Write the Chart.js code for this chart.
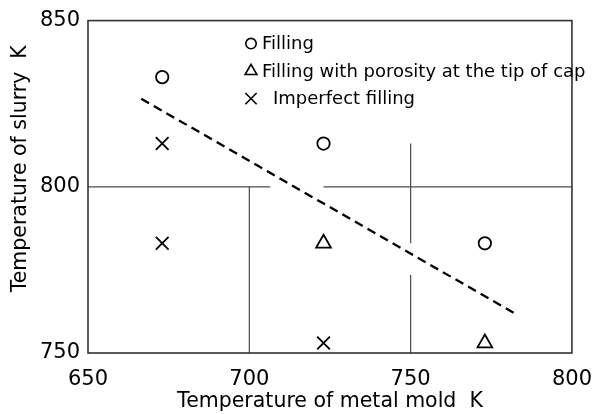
<!DOCTYPE html>
<html>
<head>
<meta charset="utf-8">
<script src="https://cdn.jsdelivr.net/npm/chart.js@4.4.1/dist/chart.umd.min.js"></script>
<style>
  html, body { margin: 0; padding: 0; background: #fff; }
  canvas { display: block; }
</style>
</head>
<body>
<canvas id="chart" width="606" height="414"></canvas>
<script>
// temperature of metal mold (K) / temperature of slurry (K)
const fillingMold = [673, 723, 773];
const fillingSlurry = [833, 813, 783];
const porosityMold = [723, 773];
const porositySlurry = [783, 753];
const imperfectMold = [673, 673, 723];
const imperfectSlurry = [813, 783, 753];

// dashed boundary line
const trendMold = [666.5, 783];
const trendSlurry = [826.5, 761.5];

// thin region lines, one segment each
const segMold = [[650, 706.5], [723, 800], [700, 700], [750, 750], [750, 750]];
const segSlurry = [[800, 800], [800, 800], [750, 800], [750, 773.5], [783, 813]];

const xTicks = [650, 700, 750, 800];
const yTicks = [750, 800, 850];

const FONT = 'DejaVu Sans';

const pts = (xs, ys) => xs.map((x, i) => ({ x: x, y: ys[i] }));

const markerSets = [
  { label: 'Filling', data: pts(fillingMold, fillingSlurry), pointStyle: 'circle', pointRadius: 6.2, legendRadius: 5.2, textGap: 1 },
  { label: 'Filling with porosity at the tip of cap', data: pts(porosityMold, porositySlurry), pointStyle: 'triangle', pointRadius: 8.5, legendRadius: 6.8, textGap: 1 },
  { label: 'Imperfect filling', data: pts(imperfectMold, imperfectSlurry), pointStyle: 'crossRot', pointRadius: 9, legendRadius: 8, textGap: 12 },
].map(d => Object.assign(d, {
  showLine: false,
  borderColor: '#000',
  backgroundColor: 'rgba(0,0,0,0)',
  pointBorderWidth: 1.8,
  pointHoverRadius: d.pointRadius,
}));

const lineSets = segMold.map((m, i) => ({
  label: 'seg' + i,
  data: pts(m, segSlurry[i]),
  showLine: true,
  borderColor: '#4a4a4a',
  borderWidth: 1.2,
  pointRadius: 0,
  fill: false,
}));

lineSets.push({
  label: 'trend',
  data: pts(trendMold, trendSlurry),
  showLine: true,
  borderColor: '#000',
  borderWidth: 2.3,
  borderDash: [9, 5.5],
  pointRadius: 0,
  fill: false,
});

// box around the plot, y title and the inside legend
const framePlugin = {
  id: 'frame',
  afterDatasetsDraw(chart) {
    const { ctx, chartArea: a } = chart;
    ctx.save();
    ctx.strokeStyle = '#333';
    ctx.lineWidth = 1.6;
    ctx.strokeRect(a.left, a.top, a.right - a.left, a.bottom - a.top);

    // y axis title sits a bit above the middle of the plot
    ctx.translate(21, (a.top + a.bottom) / 2 - 18);
    ctx.rotate(-Math.PI / 2);
    ctx.fillStyle = '#000';
    ctx.font = '20.5px "' + FONT + '"';
    ctx.textAlign = 'center';
    ctx.textBaseline = 'middle';
    ctx.fillText('Temperature of slurry  K', 0, 0);
    ctx.restore();

    ctx.save();
    ctx.font = '18px "' + FONT + '"';
    ctx.textBaseline = 'middle';
    const lx = a.left + 163;
    let ly = a.top + 23;
    markerSets.forEach(d => {
      ctx.fillStyle = 'rgba(0,0,0,0)';
      ctx.strokeStyle = '#000';
      ctx.lineWidth = 1.6;
      Chart.helpers.drawPoint(ctx, {
        pointStyle: d.pointStyle, radius: d.legendRadius, rotation: 0, borderWidth: 1.6
      }, lx, ly);
      ctx.fillStyle = '#000';
      ctx.fillText(d.label, lx + 10 + d.textGap, ly + 1);
      ly += 27.5;
    });
    ctx.restore();
  }
};

new Chart(document.getElementById('chart'), {
  type: 'scatter',
  data: { datasets: [...lineSets, ...markerSets] },
  options: {
    responsive: false,
    animation: false,
    events: [],
    layout: { padding: { top: 19, right: 20, left: 0, bottom: 0 } },
    plugins: { legend: { display: false }, tooltip: { enabled: false } },
    scales: {
      x: {
        type: 'linear',
        min: xTicks[0],
        max: xTicks[xTicks.length - 1],
        afterBuildTicks: s => { s.ticks = xTicks.map(v => ({ value: v })); },
        afterFit: s => { s.height = 61; },
        grid: { display: false, drawTicks: false },
        border: { display: false },
        ticks: { color: '#000', padding: 14, maxRotation: 0, font: { family: FONT, size: 21 } },
        title: {
          display: true,
          text: 'Temperature of metal mold  K',
          color: '#000',
          padding: { top: 0, bottom: 0 },
          font: { family: FONT, size: 20.5 }
        }
      },
      y: {
        type: 'linear',
        min: yTicks[0],
        max: yTicks[yTicks.length - 1],
        afterBuildTicks: s => { s.ticks = yTicks.map(v => ({ value: v })); },
        afterFit: s => { s.width = 88; },
        grid: { display: false, drawTicks: false },
        border: { display: false },
        ticks: { color: '#000', padding: 8, font: { family: FONT, size: 21 } }
      }
    }
  },
  plugins: [framePlugin]
});
</script>
</body>
</html>
